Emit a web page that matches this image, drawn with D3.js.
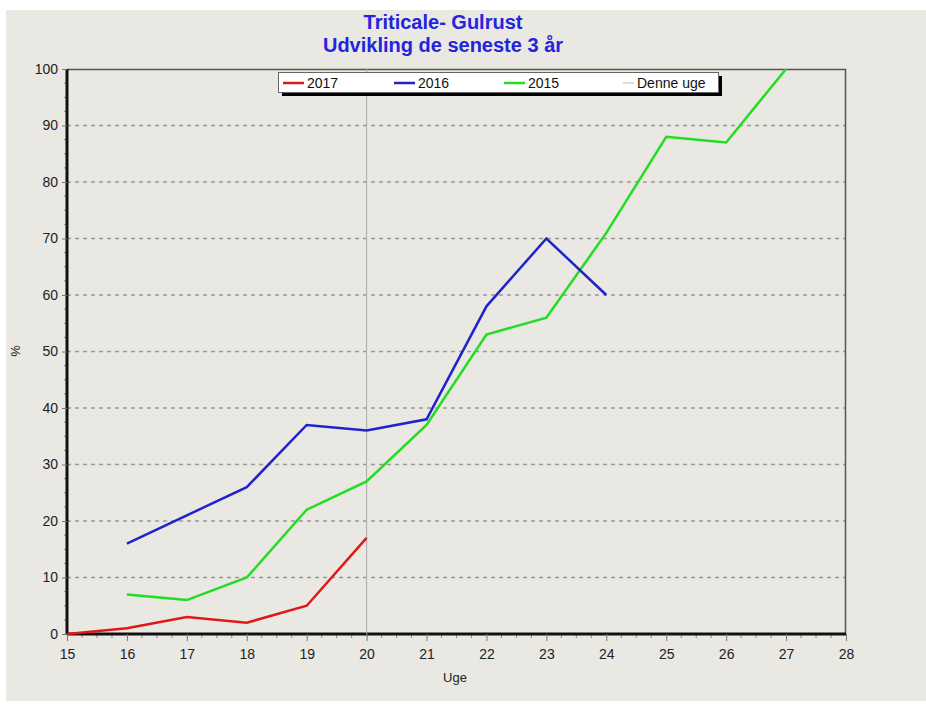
<!DOCTYPE html>
<html>
<head>
<meta charset="utf-8">
<script src="https://cdn.jsdelivr.net/npm/d3@7"></script>
<style>
  body { margin: 0; background: #fff; }
  svg text { font-family: "Liberation Sans", Arial, sans-serif; }
</style>
</head>
<body>
<div id="chart"></div>
<script>
// weeks (Uge) and % per season
const weeks2017 = [15, 16, 17, 18, 19, 20];
const values2017 = [0, 1, 3, 2, 5, 17];
const weeks2016 = [16, 17, 18, 19, 20, 21, 22, 23, 24];
const values2016 = [16, 21, 26, 37, 36, 38, 58, 70, 60];
const weeks2015 = [16, 17, 18, 19, 20, 21, 22, 23, 24, 25, 26, 27];
const values2015 = [7, 6, 10, 22, 27, 37, 53, 56, 71, 88, 87, 100];
const currentWeek = 20;
const xTicks = [15, 16, 17, 18, 19, 20, 21, 22, 23, 24, 25, 26, 27, 28];
const yTicks = [0, 10, 20, 30, 40, 50, 60, 70, 80, 90, 100];
const legendLabels = ['2017', '2016', '2015', 'Denne uge'];

const W = 926, H = 705;
const margin = {top: 69, right: 80, bottom: 71, left: 67};
const w = W - margin.left - margin.right;
const h = H - margin.top - margin.bottom;

const svg = d3.select('#chart')
  .append('svg')
  .attr('width', W)
  .attr('height', H);

// panel background
svg.append('rect')
  .attr('x', 6).attr('y', 10)
  .attr('width', W - 6).attr('height', H - 14)
  .attr('fill', '#e9e8e2');

const x = d3.scaleLinear().domain([15, 28]).range([0, w]);
const y = d3.scaleLinear().domain([0, 100]).range([h, 0]);

const g = svg.append('g')
  .attr('transform', 'translate(' + margin.left + ',' + margin.top + ')');

// dashed grid lines
g.append('g')
  .selectAll('line')
  .data(yTicks.filter(d => d > 0 && d < 100))
  .enter()
  .append('line')
  .attr('x1', 0).attr('x2', w)
  .attr('y1', d => y(d)).attr('y2', d => y(d))
  .attr('stroke', '#999')
  .attr('stroke-width', 1.5)
  .attr('stroke-dasharray', '4,4');

// top & right border
g.append('path')
  .attr('d', 'M0,0.5H' + (w - 0.5) + 'V' + h)
  .attr('fill', 'none')
  .attr('stroke', '#555')
  .attr('stroke-width', 1.5);

// minor ticks
const xMinor = d3.range(15, 28.001, 0.25).filter(d => d % 1 !== 0);
g.append('g')
  .selectAll('line')
  .data(xMinor)
  .enter()
  .append('line')
  .attr('x1', d => x(d)).attr('x2', d => x(d))
  .attr('y1', h).attr('y2', h + 4)
  .attr('stroke', '#888');

const yMinor = d3.range(0, 100.001, 2.5).filter(d => d % 10 !== 0);
g.append('g')
  .selectAll('line')
  .data(yMinor)
  .enter()
  .append('line')
  .attr('x1', -3).attr('x2', 1)
  .attr('y1', d => y(d)).attr('y2', d => y(d))
  .attr('stroke', '#888');

// axes
const xAxis = g.append('g')
  .attr('transform', 'translate(0,' + h + ')')
  .call(d3.axisBottom(x).tickValues(xTicks).tickFormat(d3.format('d')).tickSize(7).tickPadding(8));
const yAxis = g.append('g')
  .call(d3.axisLeft(y).tickValues(yTicks).tickSize(5).tickPadding(4));

[xAxis, yAxis].forEach(a => {
  a.select('.domain').attr('stroke', '#111').attr('stroke-width', 3);
  a.selectAll('.tick line').attr('stroke', '#777');
  a.selectAll('.tick text')
    .attr('fill', '#222')
    .style('font-size', '14px');
});
xAxis.select('.domain').attr('d', 'M0,0H' + w);
yAxis.select('.domain').attr('d', 'M0,0V' + h);

// current week line
g.append('line')
  .attr('x1', x(currentWeek)).attr('x2', x(currentWeek))
  .attr('y1', 0).attr('y2', h)
  .attr('stroke', '#aaa')
  .attr('stroke-width', 1);

const series = [
  {weeks: weeks2017, values: values2017, color: '#e01818'},
  {weeks: weeks2016, values: values2016, color: '#2222cc'},
  {weeks: weeks2015, values: values2015, color: '#22dd22'}
];

const line = d3.line()
  .x(d => x(d[0]))
  .y(d => y(d[1]));

// draw 2015 first so 2016/2017 sit on top
series.slice().reverse().forEach(s => {
  g.append('path')
    .datum(d3.zip(s.weeks, s.values))
    .attr('d', line)
    .attr('fill', 'none')
    .attr('stroke', s.color)
    .attr('stroke-width', 2.5);
});

// legend
const lg = svg.append('g').attr('transform', 'translate(278,72)');
lg.append('rect')
  .attr('x', 4).attr('y', 4)
  .attr('width', 440).attr('height', 20)
  .attr('fill', '#000');
lg.append('rect')
  .attr('x', 0.5).attr('y', 0.5)
  .attr('width', 440).attr('height', 20)
  .attr('fill', '#fff')
  .attr('stroke', '#666');

const legendColors = ['#e01818', '#2222cc', '#22dd22', '#bbb'];
const legendX = [5, 116, 226, 335];
const legendLen = [21, 21, 21, 11];
legendLabels.forEach((lab, i) => {
  const lx = legendX[i] + (i === 3 ? 10 : 0);
  lg.append('line')
    .attr('x1', lx).attr('x2', lx + legendLen[i])
    .attr('y1', 11).attr('y2', 11)
    .attr('stroke', legendColors[i])
    .attr('stroke-width', i === 3 ? 1 : 2.5);
  lg.append('text')
    .attr('x', legendX[i] + 24)
    .attr('y', 16)
    .attr('fill', '#111')
    .style('font-size', '14px')
    .text(lab);
});

// titles
svg.append('text')
  .attr('x', 443).attr('y', 29)
  .attr('text-anchor', 'middle')
  .attr('fill', '#2424dd')
  .style('font-size', '20px')
  .style('font-weight', 'bold')
  .text('Triticale- Gulrust');
svg.append('text')
  .attr('x', 443).attr('y', 52)
  .attr('text-anchor', 'middle')
  .attr('fill', '#2424dd')
  .style('font-size', '20px')
  .style('font-weight', 'bold')
  .text('Udvikling de seneste 3 år');

// axis labels
svg.append('text')
  .attr('x', 455).attr('y', 682)
  .attr('text-anchor', 'middle')
  .attr('fill', '#222')
  .style('font-size', '13px')
  .text('Uge');
svg.append('text')
  .attr('transform', 'translate(20,351) rotate(-90)')
  .attr('text-anchor', 'middle')
  .attr('fill', '#222')
  .style('font-size', '13px')
  .text('%');
</script>
</body>
</html>
